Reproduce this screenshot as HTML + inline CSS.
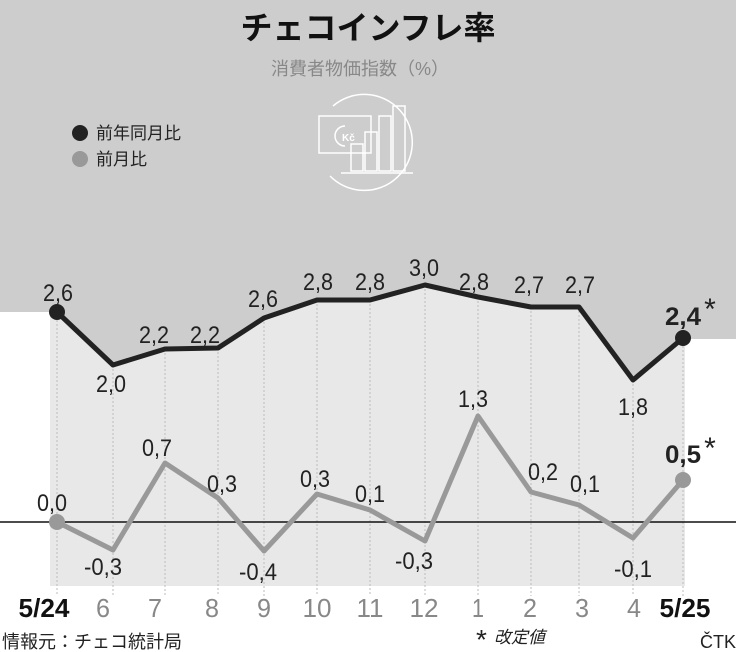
<!DOCTYPE html>
<html><head><meta charset="utf-8"><style>
html,body{margin:0;padding:0;background:#fff;}
svg{display:block;}
text{font-family:"Liberation Sans","Noto Sans CJK JP",sans-serif;}
</style></head><body>
<svg width="736" height="652" viewBox="0 0 736 652" xmlns="http://www.w3.org/2000/svg">
<rect x="0" y="0" width="736" height="652" fill="#fff"/>
<polygon points="50,312 57,312 113,365 165,349 218,348 264,318 317,300 370,300 425,285 478,297 531,307 579,307 633,380 683,338 685,338 685,586 50,586" fill="#e8e8e8"/>
<polygon points="0,0 736,0 736,339 683,339 633,380 579,307 531,307 478,297 425,285 370,300 317,300 264,318 218,348 165,349 113,365 57,312 0,312" fill="#cdcdcd"/>
<g stroke="#bbb" stroke-width="1" stroke-dasharray="2,2">
<line x1="57" y1="312" x2="57" y2="596"/><line x1="113" y1="365" x2="113" y2="596"/><line x1="165" y1="349" x2="165" y2="596"/><line x1="218" y1="348" x2="218" y2="596"/><line x1="264" y1="318" x2="264" y2="596"/><line x1="317" y1="300" x2="317" y2="596"/><line x1="370" y1="300" x2="370" y2="596"/><line x1="425" y1="285" x2="425" y2="596"/><line x1="478" y1="297" x2="478" y2="596"/><line x1="531" y1="307" x2="531" y2="596"/><line x1="579" y1="307" x2="579" y2="596"/><line x1="633" y1="380" x2="633" y2="596"/><line x1="683" y1="338" x2="683" y2="596"/>
</g>
<line x1="0" y1="522" x2="736" y2="522" stroke="#111" stroke-width="1.5"/>
<polyline points="57,312 113,365 165,349 218,348 264,318 317,300 370,300 425,285 478,297 531,307 579,307 633,380 683,338" fill="none" stroke="#222" stroke-width="5" stroke-linejoin="round"/>
<polyline points="57,522 113,550 165,463 218,498 264,551 317,494 370,510 425,541 478,416 531,492 579,505 633,538 683,480" fill="none" stroke="#999" stroke-width="5" stroke-linejoin="round"/>
<circle cx="57" cy="312" r="8" fill="#222"/><circle cx="683" cy="338" r="8" fill="#222"/>
<circle cx="57" cy="522" r="8" fill="#999"/><circle cx="683" cy="480" r="8" fill="#999"/>
<g font-size="24" fill="#222" text-anchor="middle">
<text x="58" y="301" textLength="30" lengthAdjust="spacingAndGlyphs">2,6</text>
<text x="111" y="392" textLength="30" lengthAdjust="spacingAndGlyphs">2,0</text>
<text x="154" y="343" textLength="30" lengthAdjust="spacingAndGlyphs">2,2</text>
<text x="205" y="343" textLength="30" lengthAdjust="spacingAndGlyphs">2,2</text>
<text x="263" y="307" textLength="30" lengthAdjust="spacingAndGlyphs">2,6</text>
<text x="318" y="290" textLength="30" lengthAdjust="spacingAndGlyphs">2,8</text>
<text x="370" y="290" textLength="30" lengthAdjust="spacingAndGlyphs">2,8</text>
<text x="424" y="276" textLength="30" lengthAdjust="spacingAndGlyphs">3,0</text>
<text x="474" y="290" textLength="30" lengthAdjust="spacingAndGlyphs">2,8</text>
<text x="529" y="293" textLength="30" lengthAdjust="spacingAndGlyphs">2,7</text>
<text x="580" y="293" textLength="30" lengthAdjust="spacingAndGlyphs">2,7</text>
<text x="633" y="415" textLength="30" lengthAdjust="spacingAndGlyphs">1,8</text>
<text x="52" y="511" textLength="30" lengthAdjust="spacingAndGlyphs">0,0</text>
<text x="103" y="575" textLength="38" lengthAdjust="spacingAndGlyphs">-0,3</text>
<text x="157" y="456" textLength="30" lengthAdjust="spacingAndGlyphs">0,7</text>
<text x="222" y="492" textLength="30" lengthAdjust="spacingAndGlyphs">0,3</text>
<text x="258" y="580" textLength="38" lengthAdjust="spacingAndGlyphs">-0,4</text>
<text x="315" y="487" textLength="30" lengthAdjust="spacingAndGlyphs">0,3</text>
<text x="370" y="502" textLength="30" lengthAdjust="spacingAndGlyphs">0,1</text>
<text x="414" y="569" textLength="38" lengthAdjust="spacingAndGlyphs">-0,3</text>
<text x="473" y="407" textLength="30" lengthAdjust="spacingAndGlyphs">1,3</text>
<text x="543" y="480" textLength="30" lengthAdjust="spacingAndGlyphs">0,2</text>
<text x="585" y="492" textLength="30" lengthAdjust="spacingAndGlyphs">0,1</text>
<text x="633" y="577" textLength="38" lengthAdjust="spacingAndGlyphs">-0,1</text>
</g>
<text x="683" y="325" font-size="25" font-weight="bold" fill="#222" text-anchor="middle" textLength="36" lengthAdjust="spacingAndGlyphs">2,4</text>
<text x="710" y="319" font-size="30" fill="#222" text-anchor="middle">*</text>
<text x="683" y="463" font-size="25" font-weight="bold" fill="#222" text-anchor="middle" textLength="36" lengthAdjust="spacingAndGlyphs">0,5</text>
<text x="710" y="458" font-size="30" fill="#222" text-anchor="middle">*</text>
<g font-size="26" fill="#888" text-anchor="middle">
<text x="44" y="617" fill="#111" font-weight="bold" textLength="51" lengthAdjust="spacingAndGlyphs">5/24</text>
<text x="103" y="617" textLength="14" lengthAdjust="spacingAndGlyphs">6</text>
<text x="155" y="617" textLength="14" lengthAdjust="spacingAndGlyphs">7</text>
<text x="212" y="617" textLength="14" lengthAdjust="spacingAndGlyphs">8</text>
<text x="264" y="617" textLength="14" lengthAdjust="spacingAndGlyphs">9</text>
<text x="317" y="617" textLength="29" lengthAdjust="spacingAndGlyphs">10</text>
<text x="370" y="617" textLength="27" lengthAdjust="spacingAndGlyphs">11</text>
<text x="424" y="617" textLength="29" lengthAdjust="spacingAndGlyphs">12</text>
<text x="478" y="617" textLength="12" lengthAdjust="spacingAndGlyphs">1</text>
<text x="530" y="617" textLength="14" lengthAdjust="spacingAndGlyphs">2</text>
<text x="582" y="617" textLength="14" lengthAdjust="spacingAndGlyphs">3</text>
<text x="634" y="617" textLength="14" lengthAdjust="spacingAndGlyphs">4</text>
<text x="685" y="617" fill="#111" font-weight="bold" textLength="51" lengthAdjust="spacingAndGlyphs">5/25</text>
</g>
<text x="2" y="648" font-size="18" fill="#222">情報元：チェコ統計局</text>
<text x="476" y="649" font-size="28" fill="#222">*</text>
<text x="494" y="643" font-size="17" fill="#222" font-style="italic">改定値</text>
<text x="736" y="648" font-size="18" fill="#222" text-anchor="end">ČTK</text>
<text x="368" y="39" font-size="32" font-weight="bold" fill="#111" text-anchor="middle">チェコインフレ率</text>
<text x="360" y="75" font-size="18" fill="#888" text-anchor="middle">消費者物価指数（%）</text>
<circle cx="80" cy="133" r="8" fill="#222"/><text x="96" y="139" font-size="17" fill="#222">前年同月比</text>
<circle cx="80" cy="159" r="8" fill="#999"/><text x="96" y="165" font-size="17" fill="#222">前月比</text>
<g fill="none" stroke="#fff" stroke-width="1.5">
<path d="M333,106 A48,48 0 1 1 330,176"/>
<rect x="319" y="116" width="52" height="37"/>
<path d="M345,126 A10,10 0 1 0 345,146"/>
<rect x="351" y="144" width="12" height="27"/><rect x="365" y="132" width="12" height="39"/><rect x="379" y="116" width="12" height="55"/><rect x="393" y="106" width="12" height="65"/>
<line x1="341" y1="173" x2="413" y2="173"/>
</g>
<text x="342" y="141" font-size="10" fill="#fff" font-weight="bold">Kč</text>
</svg>
</body></html>
